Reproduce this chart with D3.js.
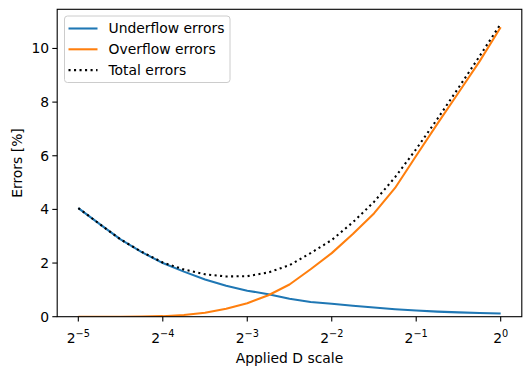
<!DOCTYPE html>
<html lang="en">
<head>
<meta charset="utf-8">
<script src="https://cdnjs.cloudflare.com/ajax/libs/d3/7.8.5/d3.min.js"></script>
<style>
  body { margin: 0; background: #fff; }
  svg text { font-family: "DejaVu Sans", sans-serif; fill: #000; }
</style>
</head>
<body>
<svg width="531" height="375"></svg>
<script>
// applied D scale (quarter-octave steps from 2^-5 to 2^0)
var dScale = [0.03125, 0.03716, 0.04419, 0.05256, 0.0625, 0.07433, 0.08839, 0.10511,
              0.125, 0.14865, 0.17678, 0.21022, 0.25, 0.29730, 0.35355, 0.42045,
              0.5, 0.59460, 0.70711, 0.84090, 1];
var underflow = [4.05, 3.46, 2.88, 2.41, 2.00, 1.68, 1.39, 1.15, 0.97, 0.84, 0.67,
                 0.55, 0.48, 0.41, 0.34, 0.28, 0.23, 0.19, 0.16, 0.14, 0.12];
var overflow = [0, 0, 0, 0.005, 0.02, 0.06, 0.15, 0.30, 0.50, 0.80, 1.20,
                1.77, 2.37, 3.08, 3.85, 4.80, 6.00, 7.19, 8.35, 9.52, 10.79];
var total = [4.05, 3.46, 2.88, 2.42, 2.02, 1.76, 1.58, 1.50, 1.51, 1.65, 1.92,
             2.37, 2.86, 3.52, 4.28, 5.20, 6.25, 7.37, 8.53, 9.71, 10.92];
var xTickExp = [-5, -4, -3, -2, -1, 0];
var yTicks = [0, 2, 4, 6, 8, 10];

var svg = d3.select("svg");
var axL = 57.2, axR = 521.8, axT = 9.3, axB = 316.7;
var fs = 13.9;
var lw = 2.08;

var x = d3.scaleLog().base(2)
    .domain([Math.pow(2, -5.25), Math.pow(2, 0.25)])
    .range([axL, axR]);
var y = d3.scaleLinear().domain([0, 11.46]).range([axB, axT]);

var series = [
  {name: "Underflow errors", vals: underflow, color: "#1f77b4", dash: null},
  {name: "Overflow errors", vals: overflow, color: "#ff7f0e", dash: null},
  {name: "Total errors", vals: total, color: "#000000", dash: "2.08,3.43"}
];

var line = d3.line()
    .x(function (d) { return x(d[0]); })
    .y(function (d) { return y(d[1]); });

svg.append("defs").append("clipPath").attr("id", "clip")
  .append("rect").attr("x", axL).attr("y", axT)
  .attr("width", axR - axL).attr("height", axB - axT);

var plot = svg.append("g").attr("clip-path", "url(#clip)");
series.forEach(function (s) {
  plot.append("path")
    .attr("d", line(dScale.map(function (v, i) { return [v, s.vals[i]]; })))
    .attr("fill", "none")
    .attr("stroke", s.color)
    .attr("stroke-width", lw)
    .attr("stroke-dasharray", s.dash)
    .attr("stroke-linejoin", "round");
});

// frame
svg.append("rect")
  .attr("x", axL).attr("y", axT)
  .attr("width", axR - axL).attr("height", axB - axT)
  .attr("fill", "none").attr("stroke", "#000").attr("stroke-width", 1.1);

// x ticks
var xt = svg.append("g");
xTickExp.forEach(function (e) {
  var px = x(Math.pow(2, e));
  xt.append("line").attr("x1", px).attr("x2", px)
    .attr("y1", axB).attr("y2", axB + 4.9)
    .attr("stroke", "#000").attr("stroke-width", 1.1);
  var t = xt.append("text").attr("x", px).attr("y", axB + 26)
    .attr("text-anchor", "middle").style("font-size", fs + "px");
  t.append("tspan").text("2");
  t.append("tspan").attr("dy", -6).style("font-size", (fs * 0.7) + "px")
    .text(e === 0 ? "0" : "\u2212" + Math.abs(e));
});

// y ticks
var yt = svg.append("g");
yTicks.forEach(function (v) {
  var py = y(v);
  yt.append("line").attr("x1", axL - 4.9).attr("x2", axL)
    .attr("y1", py).attr("y2", py)
    .attr("stroke", "#000").attr("stroke-width", 1.1);
  yt.append("text").attr("x", axL - 8).attr("y", py)
    .attr("dy", "0.35em").attr("text-anchor", "end")
    .style("font-size", fs + "px").text(v);
});

svg.append("text").attr("x", (axL + axR) / 2).attr("y", 363)
  .attr("text-anchor", "middle").style("font-size", fs + "px")
  .text("Applied D scale");
svg.append("text")
  .attr("transform", "translate(22," + ((axT + axB) / 2) + ") rotate(-90)")
  .attr("text-anchor", "middle").style("font-size", fs + "px")
  .text("Errors [%]");

// legend
var lg = svg.append("g");
lg.append("rect").attr("x", 64.5).attr("y", 16).attr("width", 165.5).attr("height", 66.5)
  .attr("rx", 3).attr("fill", "#fff").attr("fill-opacity", 0.8)
  .attr("stroke", "#cccccc").attr("stroke-width", 1);
series.forEach(function (s, i) {
  var ly = 28.5 + i * 20.8;
  lg.append("line").attr("x1", 68.5).attr("x2", 97.5)
    .attr("y1", ly).attr("y2", ly)
    .attr("stroke", s.color).attr("stroke-width", lw)
    .attr("stroke-dasharray", s.dash);
  lg.append("text").attr("x", 108.5).attr("y", ly).attr("dy", "0.35em")
    .style("font-size", fs + "px").text(s.name);
});
</script>
</body>
</html>
